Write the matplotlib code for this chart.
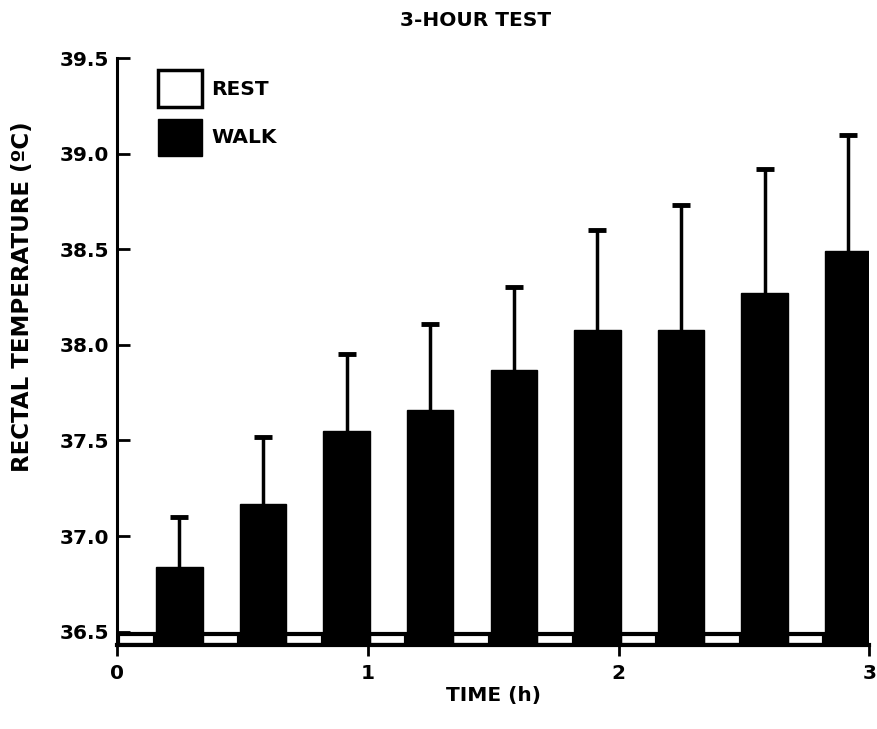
import numpy as np
import matplotlib
matplotlib.use("Agg")
import matplotlib.pyplot as plt
import matplotlib.patches as mpatches

# ---- data ----
time_min = [20, 40, 60, 80, 100, 120, 140, 160, 180]
walk_mean = [36.84, 37.17, 37.55, 37.66, 37.87, 38.08, 38.08, 38.27, 38.49]
walk_upper = [37.10, 37.52, 37.95, 38.11, 38.30, 38.60, 38.73, 38.92, 39.10]
rest_mean = [36.49, 36.49, 36.49, 36.49, 36.49, 36.49, 36.49, 36.49, 36.49]
yticks = [36.5, 37.0, 37.5, 38.0, 38.5, 39.0, 39.5]
xticks = [0, 1, 2, 3]

plt.rcParams['font.family'] = ['DejaVu Sans']
plt.rcParams['font.weight'] = 'bold'
FS = 14.5

fig = plt.figure(figsize=(8.78, 7.29), dpi=100)
ax = fig.add_axes([0.1333, 0.1152, 0.857, 0.8052])

ymin = 36.43
t_h = np.array(time_min) / 60.0
walk = np.array(walk_mean)
rest = np.array(rest_mean)
upper = np.array(walk_upper)

rest_x = t_h - 0.255
walk_x = t_h - 0.085

ax.bar(rest_x, rest - ymin, bottom=ymin, width=0.15, color='white',
       edgecolor='black', linewidth=3, zorder=2)
ax.bar(walk_x, walk - ymin, bottom=ymin, width=0.185, color='black',
       edgecolor='black', linewidth=1, zorder=3)
# one-sided (upper) error bars
ax.vlines(walk_x, walk, upper, colors='black', linewidth=2.5, zorder=4)
ax.plot(walk_x, upper, linestyle='none', marker='_', markersize=13,
        markeredgewidth=3.5, color='black', zorder=4)

ax.set_xlim(0, 3)
ax.set_ylim(ymin, 39.5)
ax.set_yticks(yticks)
ax.set_yticklabels([f"{v:.1f}" for v in yticks])
ax.set_xticks(xticks)
ax.set_xticklabels([str(v) for v in xticks])

for s in ['top', 'right']:
    ax.spines[s].set_visible(False)
ax.spines['left'].set_linewidth(2.2)
ax.spines['bottom'].set_linewidth(3)
ax.tick_params(axis='y', direction='in', length=9, width=2, labelsize=FS, pad=6)
ax.tick_params(axis='x', direction='out', length=8, width=2, labelsize=FS, pad=6)

ax.set_xlabel('TIME (h)', fontsize=FS, fontweight='bold', labelpad=2)
ax.set_ylabel('RECTAL TEMPERATURE (ºC)', fontsize=16.5, fontweight='bold')
ax.yaxis.set_label_coords(-0.110, 0.593)

fig.text(476 / 878, 1 - 20 / 729, '3-HOUR TEST', ha='center', va='center',
         fontsize=FS, fontweight='bold')

handles = [mpatches.Patch(facecolor='white', edgecolor='black', linewidth=2.5, label='REST'),
           mpatches.Patch(facecolor='black', edgecolor='black', linewidth=1, label='WALK')]
ax.legend(handles=handles, loc='upper left', bbox_to_anchor=(0.054, 0.98),
          frameon=False, handlelength=2.2, handleheight=2.5,
          handletextpad=0.45, labelspacing=0.55, borderpad=0, borderaxespad=0,
          prop={'weight': 'bold', 'size': FS})

fig.savefig('out.png', dpi=100)
